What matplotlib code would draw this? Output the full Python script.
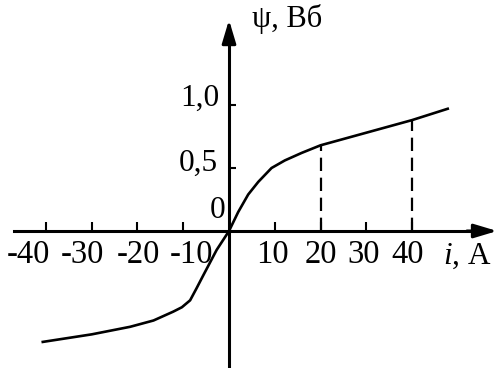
import numpy as np
import matplotlib
matplotlib.use("Agg")
import matplotlib.pyplot as plt

plt.rcParams['font.family'] = ['Liberation Serif', 'DejaVu Serif']
plt.rcParams['mathtext.fontset'] = 'custom'
plt.rcParams['mathtext.rm'] = 'Liberation Serif'
plt.rcParams['mathtext.it'] = 'Liberation Serif:italic'

# magnetisation curve psi(i)
current = [-40.7, -30, -21.6, -16.5, -12.2, -10.3, -8.5, -7.1, -5.6, -2.7, 0,
           2.0, 4.2, 6.4, 9.3, 12.2, 15.9, 20, 30, 40, 47.8]
psi = [-0.88, -0.82, -0.76, -0.71, -0.64, -0.605, -0.55, -0.455, -0.35, -0.15, 0,
       0.15, 0.29, 0.39, 0.50, 0.56, 0.62, 0.68, 0.78, 0.88, 0.97]

x_ticks = [-40, -30, -20, -10, 10, 20, 30, 40]
x_tick_labels = ['-40', '-30', '-20', '-10', '10', '20', '30', '40']
y_ticks = [0.5, 1.0]
y_tick_labels = ['0,5', '1,0']
dashed_at = [20, 40]

fig = plt.figure(figsize=(5.04, 3.68), dpi=100)
ax = fig.add_axes([0, 0, 1, 1])
ax.set_xlim(-50.05, 60.1)
ax.set_ylim(-1.087, 1.833)

# axes through the origin
for side in ['top', 'right']:
    ax.spines[side].set_visible(False)
ax.spines['left'].set_position(('data', 0))
ax.spines['bottom'].set_position(('data', 0))
ax.spines['left'].set_bounds(-1.075, 1.62)
ax.spines['bottom'].set_bounds(-47.0, 55)
for side in ['left', 'bottom']:
    ax.spines[side].set_linewidth(2.2)

ax.set_xticks(x_ticks)
ax.set_yticks(y_ticks)
ax.tick_params(axis='both', direction='in', width=1.5, labelbottom=False, labelleft=False)
ax.tick_params(axis='x', length=6.5)
ax.tick_params(axis='y', length=5)

# arrow heads
arrow = dict(arrowstyle='-|>,head_length=1.4,head_width=0.42', color='black',
             lw=2.2, shrinkA=0, shrinkB=0)
ax.annotate('', xy=(58.6, 0), xytext=(52, 0), arrowprops=arrow)
ax.annotate('', xy=(0, 1.675), xytext=(0, 1.55), arrowprops=arrow)

ax.plot(current, psi, color='black', lw=1.9, solid_joinstyle='round')

for x0 in dashed_at:
    ax.vlines(x0, 0, psi[current.index(x0)], colors='black', lw=1.6,
              linestyles=(0, (6, 3)))

# tick labels (negative side is drawn a bit spread out in the original)
label_pos = [-43.9, -32.1, -19.9, -8.1, 9.4, 20.1, 29.5, 39.1]
for xp, lab in zip(label_pos, x_tick_labels):
    ax.text(xp, -0.254, lab, ha='center', va='baseline', fontsize=23.5)
ax.text(-2.0, 0.994, y_tick_labels[1], ha='right', va='baseline', fontsize=22.5)
ax.text(-2.4, 0.48, y_tick_labels[0], ha='right', va='baseline', fontsize=22.5)
ax.text(-0.9, 0.103, '0', ha='right', va='baseline', fontsize=22.5)

ax.text(46.8, -0.262, r'$\mathit{i}$, A', ha='left', va='baseline', fontsize=22.5)
ax.text(5.0, 1.62, 'ψ, Вб', ha='left', va='baseline', fontsize=22)

fig.savefig('out.png', dpi=100)
